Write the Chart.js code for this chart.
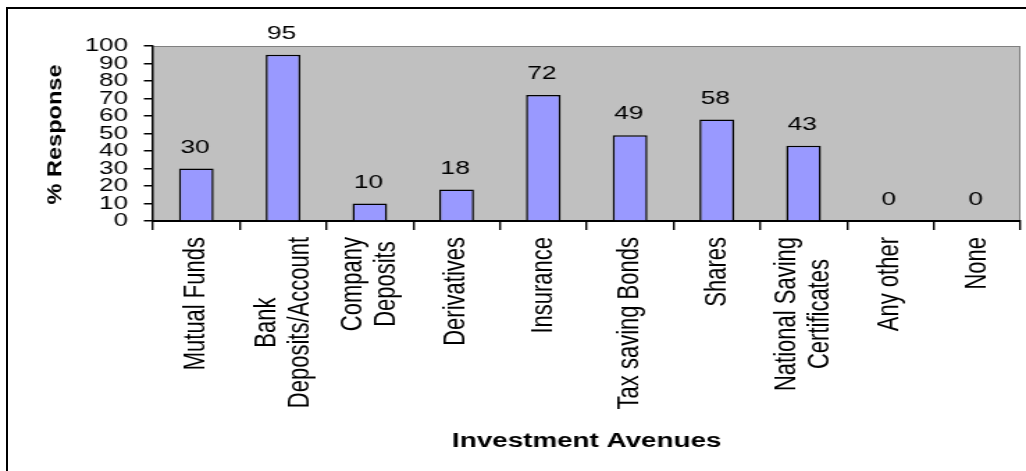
<!DOCTYPE html>
<html>
<head>
<meta charset="utf-8">
<title>Investment Avenues</title>
<script src="https://cdn.jsdelivr.net/npm/chart.js@4/dist/chart.umd.min.js"></script>
<style>
    html, body { margin: 0; padding: 0; background: #fff; overflow: hidden; }
    .frame { position: absolute; left: 6px; top: 7px; width: 1200px; height: 600px; border-left: 2px solid #000; border-top: 2px solid #000; }
    #chart { position: absolute; left: 0; top: 0; }
</style>
</head>
<body>
<div class="frame"></div>
<!-- drawn at 738px wide and stretched to 1026px, like the original picture -->
<canvas id="chart" width="738" height="471" style="width:1026px;height:471px"></canvas>
<script>
const categories = [
    ['Mutual Funds'],
    ['Bank', 'Deposits/Account'],
    ['Company', 'Deposits'],
    ['Derivatives'],
    ['Insurance'],
    ['Tax saving Bonds'],
    ['Shares'],
    ['National Saving', 'Certificates'],
    ['Any other'],
    ['None']
];
const responses = [30, 95, 10, 18, 72, 49, 58, 43, 0, 0];
const yMin = 0;
const yMax = 100;
const yStep = 10;
const yTitle = '% Response';
const xTitle = 'Investment Avenues';

const FONT = '"Liberation Sans", Arial, sans-serif';

// grey plot area with a thin dark edge
const plotBackground = {
    id: 'plotBackground',
    beforeDraw(chart) {
        const { ctx, chartArea: a } = chart;
        ctx.save();
        ctx.fillStyle = '#c0c0c0';
        ctx.fillRect(a.left, a.top, a.width, a.height);
        ctx.strokeStyle = '#808080';
        ctx.lineWidth = 1;
        ctx.strokeRect(a.left, a.top + 0.5, a.width - 0.5, a.height);
        ctx.restore();
    }
};

// numbers above the bars
const valueLabels = {
    id: 'valueLabels',
    afterDatasetsDraw(chart) {
        const { ctx } = chart;
        const meta = chart.getDatasetMeta(0);
        ctx.save();
        ctx.font = `19px ${FONT}`;
        ctx.fillStyle = '#000';
        ctx.textAlign = 'center';
        ctx.textBaseline = 'alphabetic';
        meta.data.forEach((bar, i) => {
            ctx.fillText(String(responses[i]), bar.x - 1, bar.y - 16);
        });
        ctx.restore();
    }
};

// vertical category names, lines centred on each other
const categoryLabels = {
    id: 'categoryLabels',
    afterDraw(chart) {
        const { ctx } = chart;
        const xs = chart.scales.x;
        const lineH = 24;
        ctx.save();
        ctx.font = `22px ${FONT}`;
        ctx.fillStyle = '#000';
        ctx.textAlign = 'center';
        ctx.textBaseline = 'middle';
        categories.forEach((lines, i) => {
            const widest = Math.max(...lines.map(l => ctx.measureText(l).width));
            ctx.save();
            ctx.translate(xs.getPixelForValue(i), xs.top + 16 + widest / 2);
            ctx.rotate(-Math.PI / 2);
            lines.forEach((l, j) => ctx.fillText(l, 0, (j - (lines.length - 1) / 2) * lineH));
            ctx.restore();
        });
        ctx.restore();
    }
};

// y title, drawn long and thin as in the original
const yAxisTitle = {
    id: 'yAxisTitle',
    afterDraw(chart) {
        const { ctx, chartArea: a } = chart;
        ctx.save();
        ctx.font = `bold 15px ${FONT}`;
        ctx.fillStyle = '#000';
        ctx.textAlign = 'center';
        ctx.textBaseline = 'middle';
        ctx.translate(40, (a.top + a.bottom) / 2 + 1);
        ctx.rotate(-Math.PI / 2);
        ctx.scale(1.57, 1);
        ctx.fillText(yTitle, 0, 0);
        ctx.restore();
    }
};

new Chart(document.getElementById('chart'), {
    type: 'bar',
    data: {
        labels: categories,
        datasets: [{
            data: responses,
            backgroundColor: '#9999ff',
            borderColor: '#000',
            borderWidth: 1.5,
            barPercentage: 0.4,
            categoryPercentage: 1
        }]
    },
    options: {
        responsive: false,
        devicePixelRatio: 1,
        animation: false,
        events: [],
        layout: { padding: { left: 0, top: 46, right: 4, bottom: 0 } },
        plugins: { legend: { display: false }, tooltip: { enabled: false } },
        scales: {
            x: {
                grid: { drawOnChartArea: false, tickLength: 9, color: '#000', lineWidth: 1.4, offset: true },
                border: { color: '#000', width: 2 },
                ticks: { display: false },
                title: {
                    display: true,
                    text: xTitle,
                    color: '#000',
                    font: { family: FONT, size: 20, weight: 'bold' },
                    padding: { top: 0, bottom: 18 }
                },
                afterFit(scale) { scale.height = 250; }
            },
            y: {
                min: yMin,
                max: yMax,
                ticks: { stepSize: yStep, autoSkip: false, padding: 11.5, color: '#000', font: { family: FONT, size: 18.6 } },
                grid: { drawOnChartArea: false, tickLength: 6.5, color: '#000', lineWidth: 1.5 },
                border: { color: '#000', width: 1.4 },
                afterFit(scale) { scale.width = 110; }
            }
        }
    },
    plugins: [plotBackground, valueLabels, categoryLabels, yAxisTitle]
});
</script>
</body>
</html>
